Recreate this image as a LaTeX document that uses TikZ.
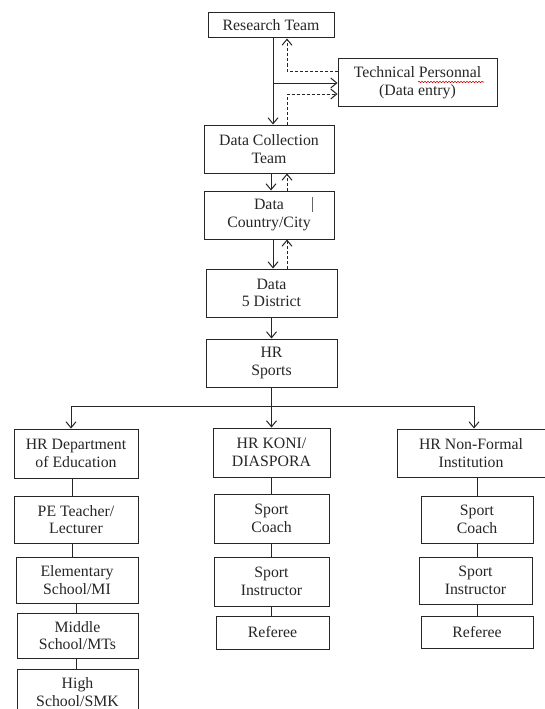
\documentclass[tikz,border=0pt]{standalone}
\usepackage{fontspec}
\setmainfont{Liberation Serif}
\usetikzlibrary{arrows.meta,decorations.pathmorphing}
\begin{document}
\begin{tikzpicture}[x=1pt,y=-1pt,
  box/.style={draw=black!85, line width=1pt, rectangle, inner sep=0pt, align=center,
    font=\fontsize{15.8}{17.5}\selectfont, text=black!85},
  arr/.style={draw=black!85, line width=1pt, -{Straight Barb[length=6pt,width=10pt]}},
  darr/.style={arr, dashed, dash pattern=on 3pt off 2pt},
  ln/.style={draw=black!85, line width=1pt}]
\useasboundingbox (0,0) rectangle (545,709);
\fill[white] (0,0) rectangle (545,709);
% top chain
\node[box, minimum width=126pt, minimum height=25pt] (rt) at (271,25.5) {Research Team};
\node[box, minimum width=159pt, minimum height=47pt] (tp) at (417.5,82.5) {Technical Personnal\\(Data entry)};
\node[box, minimum width=130pt, minimum height=48pt] (dct) at (269,149) {Data Collection\\Team};
\node[box, minimum width=130pt, minimum height=48pt] (dcc) at (269,215) {Data\\Country/City};
\node[box, minimum width=131pt, minimum height=48pt] (d5) at (271.5,293) {Data\\5 District};
\node[box, minimum width=131pt, minimum height=48pt] (hrs) at (271.5,363) {HR\\Sports};
% left column
\node[box, minimum width=124pt, minimum height=49pt] (hre) at (76,453.5) {HR Department\\of Education};
\node[box, minimum width=124pt, minimum height=47pt] (pe) at (76,519.5) {PE Teacher/\\Lecturer};
\node[box, minimum width=122pt, minimum height=46pt] (ele) at (77,580) {Elementary\\School/MI};
\node[box, minimum width=121pt, minimum height=45pt] (mid) at (77.5,635.5) {Middle\\School/MTs};
\node[box, minimum width=121pt, minimum height=46pt] (high) at (77.5,692) {High\\School/SMK};
% middle column
\node[box, minimum width=117pt, minimum height=49pt] (koni) at (271.5,452.5) {HR KONI/\\DIASPORA};
\node[box, minimum width=115pt, minimum height=49pt] (kc) at (271.5,518.5) {Sport\\Coach};
\node[box, minimum width=115pt, minimum height=49pt] (ki) at (271.5,581.5) {Sport\\Instructor};
\node[box, minimum width=113pt, minimum height=33pt] (kr) at (272.5,632.5) {Referee};
% right column
\node[box, minimum width=148pt, minimum height=48pt] (nf) at (471,453) {HR Non-Formal\\Institution};
\node[box, minimum width=112pt, minimum height=47pt] (nc) at (477,519.5) {Sport\\Coach};
\node[box, minimum width=113pt, minimum height=47pt] (ni) at (475.5,580.5) {Sport\\Instructor};
\node[box, minimum width=112pt, minimum height=32pt] (nr) at (477,632) {Referee};
% spell-check squiggle and stray mark
\draw[red!80!black, line width=0.6pt, decorate, decoration={snake, amplitude=0.7pt, segment length=3pt}] (418,82) -- (484,82);
\draw[black!60, line width=0.6pt] (312,197) -- (312,212);
% helper coordinates
\coordinate (va) at (273,83);
\coordinate (c1) at (287,71);
\coordinate (c2) at (287,94);
\coordinate (s1) at (271,0);
\coordinate (s2) at (273,0);
\coordinate (dd) at (287,0);
\coordinate (bl) at (71,406);
\coordinate (bm) at (271.5,406);
\coordinate (br) at (474,406);
\coordinate (ca) at (72,0);
\coordinate (cb) at (76,0);
\coordinate (cm) at (271,0);
\coordinate (cr) at (477,0);
% top connectors
\draw[arr] (va |- rt.south) -- (va |- dct.north);
\draw[arr] (va) -- (va -| tp.west);
\draw[darr] (c1 -| tp.west) -- (c1) -- (c1 |- rt.south);
\draw[darr] (c2 |- dct.north) -- (c2) -- (c2 -| tp.west);
\draw[arr] (s1 |- dct.south) -- (s1 |- dcc.north);
\draw[darr] (dd |- dcc.north) -- (dd |- dct.south);
\draw[arr] (s2 |- dcc.south) -- (s2 |- d5.north);
\draw[darr] (dd |- d5.north) -- (dd |- dcc.south);
\draw[arr] (d5) -- (hrs);
% branch
\draw[ln] (hrs.south) -- (bm);
\draw[ln] (bl) -- (br);
\draw[arr] (bl) -- (bl |- hre.north);
\draw[arr] (bm) -- (koni.north);
\draw[arr] (br) -- (br |- nf.north);
% column links
\draw[ln] (ca |- hre.south) -- (ca |- pe.north);
\draw[ln] (ca |- pe.south) -- (ca |- ele.north);
\draw[ln] (cb |- ele.south) -- (cb |- mid.north);
\draw[ln] (cb |- mid.south) -- (cb |- high.north);
\draw[ln] (cm |- koni.south) -- (cm |- kc.north);
\draw[ln] (cm |- kc.south) -- (cm |- ki.north);
\draw[ln] (cm |- ki.south) -- (cm |- kr.north);
\draw[ln] (cr |- nf.south) -- (cr |- nc.north);
\draw[ln] (cr |- nc.south) -- (cr |- ni.north);
\draw[ln] (cr |- ni.south) -- (cr |- nr.north);
\end{tikzpicture}
\end{document}
